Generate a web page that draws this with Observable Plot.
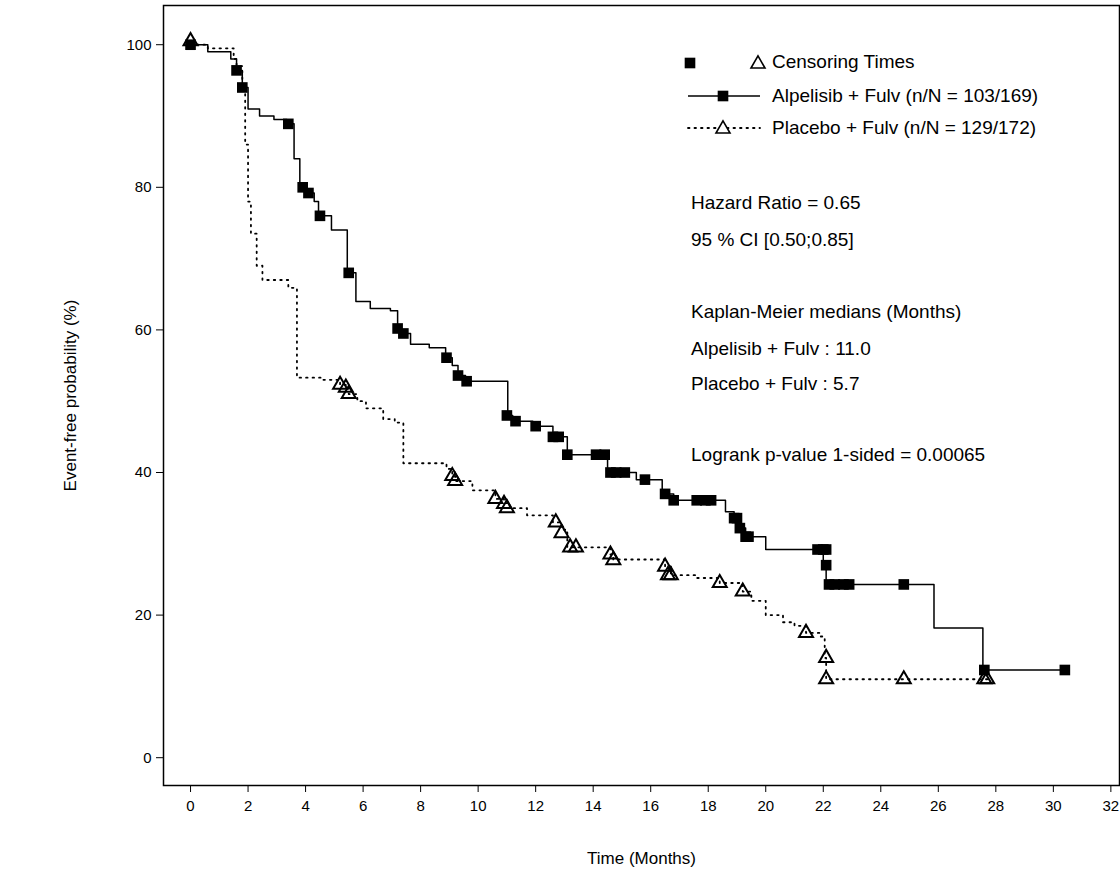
<!DOCTYPE html>
<html><head><meta charset="utf-8">
<script src="https://cdn.jsdelivr.net/npm/d3@7"></script>
<script src="https://cdn.jsdelivr.net/npm/@observablehq/plot@0.6"></script>
<style>
body{margin:0;background:#fff;font-family:"Liberation Sans",Arial,sans-serif;}
#wrap{position:relative;width:1120px;height:870px;}
.note{position:absolute;font-size:19px;line-height:22px;color:#000;white-space:nowrap;}
#wrap g[aria-label="x-axis label"] text, #wrap g[aria-label="y-axis label"] text{font-size:17px;}
</style></head><body>
<div id="wrap"></div>
<script>
// Alpelisib + Fulv step curve (months, %)
const alpT = [0,0.6,1.4,1.6,1.8,2.0,2.4,2.9,3.35,3.6,3.8,4.0,4.3,4.45,4.9,5.45,5.75,6.25,6.95,7.2,7.3,7.65,8.3,8.87,9.1,9.3,9.56,11.03,11.2,11.9,12.6,13.1,14.5,15.5,16.4,16.8,18.6,18.9,19.1,19.3,20.0,22.0,22.1,25.85,27.55,30.4];
const alpS = [100,99,98,96.4,94,91,90,89.5,88.9,84,80,79.2,78,76,74,68,64,63,62.7,60.2,59.5,58,57.5,56.1,55,53.6,52.8,48,47.2,46.5,45,42.5,40,39,37,36.1,34.5,33.6,32.2,31,29.2,27,24.3,18.2,12.3,12.3];
const alpCT = [0,1.6,1.8,3.4,3.9,4.1,4.5,5.5,7.2,7.4,8.9,9.3,9.6,11.0,11.3,12.0,12.6,12.8,13.1,14.1,14.4,14.6,14.8,15.1,15.8,16.5,16.8,17.6,17.9,18.1,18.9,19.0,19.1,19.3,19.4,21.8,22.0,22.1,22.1,22.2,22.4,22.7,22.9,24.8,27.6,30.4];
const alpCS = [100,96.4,94,88.9,80,79.2,76,68,60.2,59.5,56.1,53.6,52.8,48,47.2,46.5,45,45,42.5,42.5,42.5,40,40,40,39,37,36.1,36.1,36.1,36.1,33.6,33.6,32.2,31,31,29.2,29.2,29.2,27,24.3,24.3,24.3,24.3,24.3,12.3,12.3];

// Placebo + Fulv step curve
const plaT = [0,0.6,1.5,1.6,1.8,1.9,2.0,2.1,2.3,2.5,3.4,3.7,4.6,5.2,5.4,5.5,5.8,6.1,6.7,7.1,7.4,8.5,8.9,9.1,9.2,9.8,10.6,10.9,11.1,11.7,12.6,12.9,13.1,14.6,14.7,16.5,16.7,17.6,18.4,19.2,19.5,20.0,20.6,21.0,21.4,21.9,22.05,22.1,27.7];
const plaS = [100,99.5,98,97,94,86,78,73.5,69,67,65.9,53.3,53,52.3,51.9,51,50,49,47.5,47,41.3,41.3,40.5,39.5,38.8,37.5,36.3,35.7,35,34,33,32,29.5,28.5,27.8,26.8,25.6,25.2,24.5,23.3,22,20,19,18.5,17.5,17,14,11,11];
const plaCT = [0,5.2,5.4,5.5,9.1,9.2,10.6,10.9,11.0,12.7,12.9,13.2,13.4,14.6,14.7,16.5,16.6,16.7,18.4,19.2,21.4,22.1,22.1,24.8,27.6,27.7];
const plaCS = [100.5,52.3,51.9,51,39.5,38.8,36.3,35.6,35,33,31.5,29.5,29.5,28.5,27.7,26.8,25.6,25.6,24.5,23.3,17.5,14,11,11,11,11];

const xTicks = d3.range(0, 33, 2);
const yTicks = [0, 20, 40, 60, 80, 100];

const zip = (t, s) => t.map((v, i) => ({t: v, s: s[i]}));
const alp = zip(alpT, alpS), alpC = zip(alpCT, alpCS);
const pla = zip(plaT, plaS), plaC = zip(plaCT, plaCS);

const chart = Plot.plot({
  width: 1120, height: 870,
  marginLeft: 163, marginRight: 1, marginTop: 5, marginBottom: 85,
  style: {fontFamily: "Liberation Sans, Arial, sans-serif", fontSize: "15px", color: "#000", background: "#fff"},
  x: {domain: [-0.94, 32.3]},
  y: {domain: [-3.9, 105.5]},
  marks: [
    Plot.frame({stroke: "#000", strokeWidth: 1.5}),
    Plot.axisX({ticks: xTicks, tickSize: 7, tickPadding: 8, label: "Time (Months)", labelAnchor: "center", labelArrow: "none", labelOffset: 78, fontSize: 15}),
    Plot.axisY({ticks: yTicks, tickSize: 7, tickPadding: 5, label: "Event-free probability (%)", labelAnchor: "center", labelArrow: "none", labelOffset: 100, fontSize: 15}),
    Plot.line(pla, {x: "t", y: "s", curve: "step-after", stroke: "#000", strokeWidth: 1.8, strokeDasharray: "1.5 5", strokeLinecap: "round"}),
    Plot.line(alp, {x: "t", y: "s", curve: "step-after", stroke: "#000", strokeWidth: 1.5}),
    Plot.dot(plaC, {x: "t", y: "s", symbol: "triangle", r: 5.2, stroke: "#000", strokeWidth: 2, fill: "none"}),
    Plot.dot(alpC, {x: "t", y: "s", symbol: "square", r: 6, fill: "#000", stroke: "none"})
  ]
});
const wrap = document.getElementById("wrap");
wrap.appendChild(chart);

// legend and stats text (top = line centre - 11)
const notes = [
  [772, 51, "Censoring Times"],
  [772, 85, "Alpelisib + Fulv (n/N = 103/169)"],
  [772, 117, "Placebo + Fulv (n/N = 129/172)"],
  [691, 192, "Hazard Ratio = 0.65"],
  [691, 229, "95 % CI [0.50;0.85]"],
  [691, 301, "Kaplan-Meier medians (Months)"],
  [691, 338, "Alpelisib + Fulv : 11.0"],
  [691, 373, "Placebo + Fulv : 5.7"],
  [691, 444, "Logrank p-value 1-sided = 0.00065"]
];
notes.forEach(([x, y, s]) => {
  const d = document.createElement("div");
  d.className = "note"; d.style.left = x + "px"; d.style.top = y + "px"; d.textContent = s;
  wrap.appendChild(d);
});
const leg = d3.select(wrap).append("svg").attr("width", 1120).attr("height", 870)
  .style("position", "absolute").style("left", 0).style("top", 0).style("pointer-events", "none");
const tri = d3.symbol(d3.symbolTriangle, 85)();
const sq = d3.symbol(d3.symbolSquare, 113)();
leg.append("path").attr("d", sq).attr("transform", "translate(690,63)");
leg.append("path").attr("d", tri).attr("transform", "translate(758,64)").attr("fill", "none").attr("stroke", "#000").attr("stroke-width", 1.6);
leg.append("line").attr("x1", 688).attr("x2", 760).attr("y1", 96).attr("y2", 96).attr("stroke", "#000").attr("stroke-width", 1.5);
leg.append("path").attr("d", sq).attr("transform", "translate(723,96)");
leg.append("line").attr("x1", 688).attr("x2", 760).attr("y1", 128).attr("y2", 128).attr("stroke", "#000").attr("stroke-width", 1.8).attr("stroke-dasharray", "1.5 5").attr("stroke-linecap", "round");
leg.append("path").attr("d", tri).attr("transform", "translate(723,129)").attr("fill", "#fff").attr("stroke", "#000").attr("stroke-width", 1.6);
</script>
</body></html>
